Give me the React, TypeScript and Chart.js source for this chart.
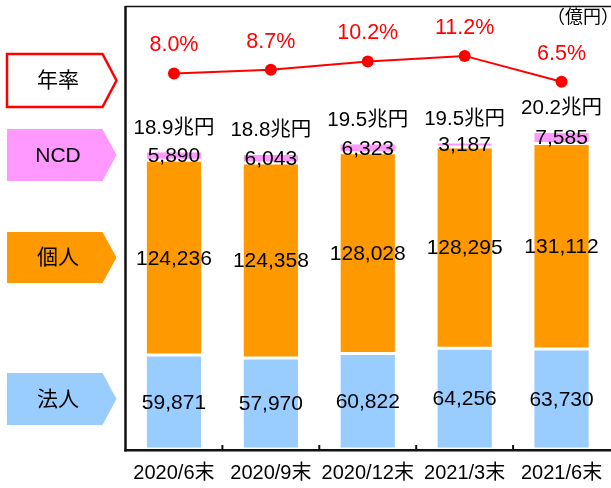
import React, { useEffect, useRef } from "react";
import { Chart, registerables } from "chart.js";

Chart.register(...registerables);

// ---- data ----
const categories = ["2020/6末", "2020/9末", "2020/12末", "2021/3末", "2021/6末"];
const corporate = [59871, 57970, 60822, 64256, 63730]; // 法人
const individual = [124236, 124358, 128028, 128295, 131112]; // 個人
const ncd = [5890, 6043, 6323, 3187, 7585]; // NCD
const annualRate = [8.0, 8.7, 10.2, 11.2, 6.5]; // 年率 (%)
const totalLabels = ["18.9兆円", "18.8兆円", "19.5兆円", "19.5兆円", "20.2兆円"];
const seriesNames = ["年率", "NCD", "個人", "法人"];
const unitLabel = "（億円）";

const FONT = '"Liberation Sans", Arial, "Noto Sans CJK JP", sans-serif';
const BLUE = "#99ccff";
const ORANGE = "#ff9900";
const PINK = "#ff99ff";
const RED = "#ff0000";

function fmt(n: number) {
  return n.toLocaleString("en-US");
}

const decorPlugin = {
  id: "decor",
  afterDatasetsDraw(chart: any) {
    const ctx: CanvasRenderingContext2D = chart.ctx;
    const { left, top, bottom } = chart.chartArea;
    const xs = chart.scales.x;
    ctx.save();

    // frame
    ctx.strokeStyle = "#111";
    ctx.lineWidth = 1.5;
    ctx.beginPath();
    ctx.moveTo(left, top + 0.5);
    ctx.lineTo(chart.width, top + 0.5);
    ctx.stroke();
    ctx.lineWidth = 2.5;
    ctx.beginPath();
    ctx.moveTo(left, top);
    ctx.lineTo(left, bottom + 2.5);
    ctx.stroke();
    ctx.beginPath();
    ctx.moveTo(left - 1, bottom + 1.2);
    ctx.lineTo(chart.width, bottom + 1.2);
    ctx.stroke();
    // inner ticks at category boundaries
    ctx.lineWidth = 2;
    for (let i = 1; i < categories.length; i++) {
      const bx = (xs.getPixelForValue(i - 1) + xs.getPixelForValue(i)) / 2;
      ctx.beginPath();
      ctx.moveTo(bx, bottom - 4);
      ctx.lineTo(bx, bottom + 1);
      ctx.stroke();
    }

    // segment labels
    ctx.textAlign = "center";
    ctx.textBaseline = "middle";
    ctx.fillStyle = "#000";
    ctx.font = `21px ${FONT}`;
    const segVals = [corporate, individual, ncd];
    for (let d = 0; d < 3; d++) {
      const meta = chart.getDatasetMeta(d);
      meta.data.forEach((el: any, i: number) => {
        const cy = (el.y + el.base) / 2;
        ctx.fillText(fmt(segVals[d][i]), el.x, cy + 1);
      });
    }
    // totals
    ctx.font = `20.5px ${FONT}`;
    const topMeta = chart.getDatasetMeta(2);
    topMeta.data.forEach((el: any, i: number) => {
      ctx.fillText(totalLabels[i], el.x, el.y - 23);
    });
    // percent labels
    ctx.fillStyle = RED;
    ctx.font = `21.5px ${FONT}`;
    const lineMeta = chart.getDatasetMeta(3);
    lineMeta.data.forEach((el: any, i: number) => {
      ctx.fillText(annualRate[i].toFixed(1) + "%", el.x, el.y - 28);
    });

    // unit label
    ctx.fillStyle = "#000";
    ctx.font = `18px ${FONT}`;
    ctx.textAlign = "right";
    ctx.fillText(unitLabel, 619, 18);

    // left side series tags
    const tags = [
      { name: seriesNames[0], y0: 54, y1: 107, fill: "#ffffff", stroke: RED },
      { name: seriesNames[1], y0: 129, y1: 181, fill: PINK, stroke: null },
      { name: seriesNames[2], y0: 232, y1: 283, fill: ORANGE, stroke: null },
      { name: seriesNames[3], y0: 373, y1: 425, fill: BLUE, stroke: null },
    ];
    tags.forEach((t) => {
      const x0 = 7, x1 = 102.5, xp = 116.5;
      const ym = (t.y0 + t.y1) / 2;
      ctx.beginPath();
      ctx.moveTo(x0, t.y0);
      ctx.lineTo(x1, t.y0);
      ctx.lineTo(xp, ym);
      ctx.lineTo(x1, t.y1);
      ctx.lineTo(x0, t.y1);
      ctx.closePath();
      ctx.fillStyle = t.fill;
      ctx.fill();
      if (t.stroke) {
        ctx.strokeStyle = t.stroke;
        ctx.lineWidth = 2.5;
        ctx.stroke();
      }
      ctx.fillStyle = "#000";
      ctx.font = `21px ${FONT}`;
      ctx.textAlign = "center";
      ctx.textBaseline = "middle";
      ctx.fillText(t.name, 58, ym + 1);
    });

    ctx.restore();
  },
};

export default function App() {
  const ref = useRef<HTMLCanvasElement>(null);

  useEffect(() => {
    if (!ref.current) return;
    const barCommon = {
      borderColor: "#ffffff",
      borderWidth: 1.5,
      borderSkipped: false,
      barPercentage: 0.59,
      categoryPercentage: 1,
      yAxisID: "y",
      order: 2,
    };
    const chart = new Chart(ref.current, {
      type: "bar",
      data: {
        labels: categories,
        datasets: [
          { ...barCommon, label: seriesNames[3], data: corporate, backgroundColor: BLUE },
          { ...barCommon, label: seriesNames[2], data: individual, backgroundColor: ORANGE },
          { ...barCommon, label: seriesNames[1], data: ncd, backgroundColor: PINK },
          {
            type: "line",
            label: seriesNames[0],
            data: annualRate,
            yAxisID: "y1",
            borderColor: RED,
            borderWidth: 2,
            pointRadius: 6,
            pointBackgroundColor: RED,
            pointBorderWidth: 0,
            tension: 0,
            order: 0,
          } as any,
        ],
      },
      options: {
        responsive: false,
        animation: false,
        devicePixelRatio: 1,
        layout: { padding: { left: 125.5, right: 2, top: 5, bottom: 0 } },
        plugins: {
          legend: { display: false },
          tooltip: { enabled: false },
        },
        scales: {
          x: {
            stacked: true,
            offset: true,
            grid: { display: false, drawTicks: false },
            border: { display: false },
            ticks: {
              color: "#000",
              font: { size: 20, family: FONT },
              padding: 12,
              maxRotation: 0,
              autoSkip: false,
            },
            afterFit: (s: any) => {
              s.height = 39;
            },
          },
          y: { stacked: true, display: false, min: 0, max: 282500 },
          y1: { display: false, min: -60.02, max: 20.24 },
        },
      } as any,
      plugins: [decorPlugin],
    });
    return () => chart.destroy();
  }, []);

  return (
    <div
      style={{
        position: "absolute",
        left: 0,
        top: 0,
        width: 611,
        height: 488,
        overflow: "hidden",
        background: "#fff",
      }}
    >
      <canvas ref={ref} width={616} height={488} style={{ display: "block", width: 616, height: 488 }} />
    </div>
  );
}
